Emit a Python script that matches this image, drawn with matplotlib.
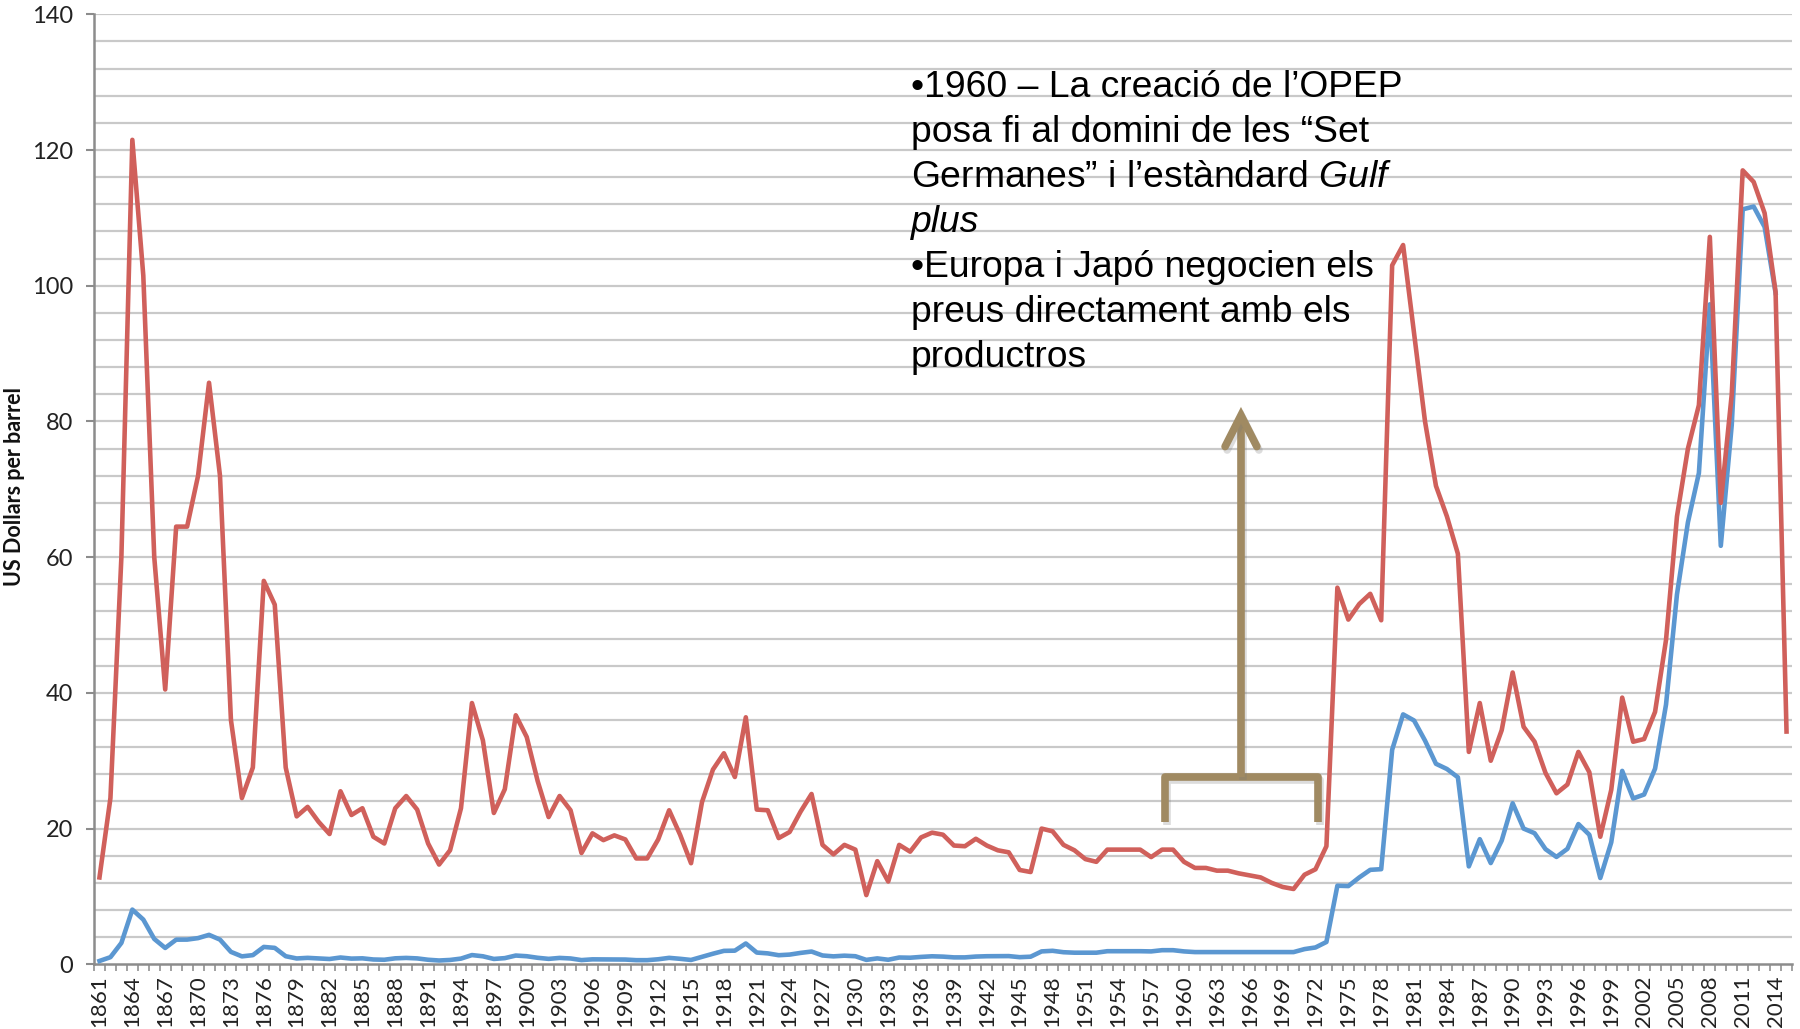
import numpy as np
import matplotlib
matplotlib.use("Agg")
import matplotlib.pyplot as plt
import matplotlib.patheffects as pe

plt.rcParams['mathtext.fontset'] = 'custom'
plt.rcParams['mathtext.rm'] = 'Liberation Sans'
plt.rcParams['mathtext.it'] = 'Liberation Sans:italic'

# ---------------- data ----------------
years = list(range(1861, 2016))

# Real price (US$ 2014) - red
real_price = [
    12.8, 24.5, 60.0, 121.5, 101.5, 60.0, 40.5, 64.5, 64.5, 72.0,          # 1861-1870
    85.7, 72.0, 36.0, 24.5, 29.0, 56.5, 53.0, 29.0, 21.8, 23.2,            # 1871-1880
    21.0, 19.2, 25.5, 22.0, 23.0, 18.8, 17.8, 23.0, 24.8, 22.8,            # 1881-1890
    17.8, 14.7, 16.8, 23.0, 38.5, 33.0, 22.3, 25.8, 36.7, 33.5,            # 1891-1900
    27.0, 21.7, 24.8, 22.7, 16.4, 19.3, 18.3, 19.0, 18.4, 15.6,            # 1901-1910
    15.6, 18.4, 22.7, 19.1, 14.9, 23.9, 28.7, 31.1, 27.6, 36.4,            # 1911-1920
    22.8, 22.7, 18.6, 19.5, 22.5, 25.1, 17.6, 16.2, 17.6, 16.9,            # 1921-1930
    10.2, 15.2, 12.2, 17.6, 16.6, 18.7, 19.4, 19.1, 17.5, 17.4,            # 1931-1940
    18.5, 17.5, 16.8, 16.5, 13.9, 13.6, 20.0, 19.6, 17.6, 16.8,            # 1941-1950
    15.5, 15.1, 16.9, 16.9, 16.9, 16.9, 15.8, 16.9, 16.9, 15.1,            # 1951-1960
    14.2, 14.2, 13.8, 13.8, 13.4, 13.1, 12.8, 12.0, 11.4, 11.1,            # 1961-1970
    13.2, 14.0, 17.4, 55.5, 50.8, 53.1, 54.6, 50.7, 103.0, 106.0,          # 1971-1980
    93.0, 80.0, 70.5, 66.0, 60.5, 31.3, 38.5, 30.0, 34.5, 43.0,            # 1981-1990
    35.0, 32.8, 28.2, 25.2, 26.5, 31.3, 28.3, 18.8, 25.7, 39.3,            # 1991-2000
    32.8, 33.2, 37.2, 47.8, 66.0, 76.0, 82.4, 107.2, 68.0, 84.0,           # 2001-2010
    117.0, 115.3, 110.7, 99.1, 34.3,                                       # 2011-2015
]

# Nominal price (money of the day) - blue
nominal_price = [
    0.49, 1.05, 3.15, 8.06, 6.59, 3.74, 2.41, 3.63, 3.64, 3.86,
    4.34, 3.64, 1.83, 1.17, 1.35, 2.56, 2.42, 1.19, 0.86, 0.95,
    0.86, 0.78, 1.00, 0.84, 0.88, 0.71, 0.67, 0.88, 0.94, 0.87,
    0.67, 0.56, 0.64, 0.84, 1.36, 1.18, 0.79, 0.91, 1.29, 1.19,
    0.96, 0.80, 0.94, 0.86, 0.62, 0.73, 0.72, 0.72, 0.70, 0.61,
    0.61, 0.74, 0.95, 0.81, 0.64, 1.10, 1.56, 1.98, 2.01, 3.07,
    1.73, 1.61, 1.34, 1.43, 1.68, 1.88, 1.30, 1.17, 1.27, 1.19,
    0.65, 0.87, 0.67, 1.00, 0.97, 1.09, 1.18, 1.13, 1.02, 1.02,
    1.14, 1.19, 1.20, 1.21, 1.05, 1.12, 1.90, 1.99, 1.78, 1.71,
    1.71, 1.71, 1.93, 1.93, 1.93, 1.93, 1.90, 2.08, 2.08, 1.90,
    1.80, 1.80, 1.80, 1.80, 1.80, 1.80, 1.80, 1.80, 1.80, 1.80,
    2.24, 2.48, 3.29, 11.58, 11.53, 12.80, 13.92, 14.02, 31.61, 36.83,
    35.93, 32.97, 29.55, 28.78, 27.56, 14.43, 18.44, 14.92, 18.23, 23.73,
    20.00, 19.32, 16.97, 15.82, 17.02, 20.67, 19.09, 12.72, 17.97, 28.50,
    24.44, 25.02, 28.83, 38.27, 54.52, 65.14, 72.39, 97.26, 61.67, 79.50,
    111.26, 111.67, 108.66, 98.95, np.nan,
]

y_label = "US Dollars per barrel"
note_lines = [
    "•1960 – La creació de l’OPEP",
    "posa fi al domini de les “Set",
    "Germanes” i l’estàndard $\\mathit{Gulf}$",
    "plus",
    "•Europa i Japó negocien els",
    "preus directament amb els",
    "productros",
]

# ---------------- figure ----------------
W, H = 1800, 1029
fig = plt.figure(figsize=(W / 100, H / 100), dpi=100)
ax = fig.add_axes([94 / W, (H - 964.3) / H, (1792 - 94) / W, (964.3 - 14.3) / H])

x = np.arange(len(years))
red_c = "#D0605B"
blue_c = "#5B97D1"
ax.plot(x, nominal_price, color=blue_c, lw=3.3, solid_joinstyle="round", zorder=3)
ax.plot(x, real_price, color=red_c, lw=3.3, solid_joinstyle="round", zorder=4)

ax.set_xlim(-0.5, len(years) - 0.5)
ax.set_ylim(0, 140)

# gridlines every 4
for g in np.arange(4, 141, 4):
    ax.axhline(g, color="#C9C9C9", lw=1.6, zorder=1)

# y ticks
ax.set_yticks(np.arange(0, 141, 20))
ax.tick_params(axis="y", length=6, width=1.5, color="#8C8C8C", pad=9,
               labelsize=17, labelcolor="#222222")
# x ticks
ax.set_xticks(x[::3])
ax.set_xticklabels([str(years[i]) for i in x[::3]], rotation=90)
ax.set_xticks(np.arange(-0.5, len(years), 1), minor=True)
ax.tick_params(axis="x", which="major", length=0, pad=8, labelsize=16, labelcolor="#222222")
ax.tick_params(axis="x", which="minor", length=5, width=1.3, color="#9A9A9A")
for lab in ax.get_xticklabels() + ax.get_yticklabels():
    lab.set_family("Lato")

for s in ["top", "right"]:
    ax.spines[s].set_visible(False)
for s in ["left", "bottom"]:
    ax.spines[s].set_color("#8C8C8C")
    ax.spines[s].set_linewidth(1.8)

fig.text(15 / W, 1 - 487 / H, y_label, rotation=90, ha="center", va="center",
         fontsize=15.5, fontweight="bold", family="Lato", color="#111111")

# annotation text
for i, line in enumerate(note_lines):
    baseline = 96.7 + 45 * i
    style = "italic" if line == "plus" else "normal"
    fig.text(911 / W, 1 - baseline / H, line, ha="left", va="baseline",
             fontsize=26.8, family="Liberation Sans", style=style, color="black")

# bracket + arrow
tan = "#A08A62"
shadow = [pe.SimpleLineShadow(offset=(1.5, -2.5), shadow_color="#777777", alpha=0.25),
          pe.Normal()]
bx0, bx1, bxc = 97.3, 111.2, 104.2
ax.plot([bx0, bx0, bx1, bx1], [21.0, 27.6, 27.6, 21.0], color=tan, lw=5.5,
        solid_joinstyle="round", solid_capstyle="butt", zorder=6, path_effects=shadow)
ax.plot([bxc, bxc], [27.6, 80.4], color=tan, lw=5.5, solid_capstyle="butt",
        zorder=6, path_effects=shadow)
ax.plot([bxc - 1.45, bxc, bxc + 1.45], [76.3, 80.9, 76.3], color=tan, lw=5.5,
        solid_joinstyle="miter", solid_capstyle="round", zorder=6, path_effects=shadow)

fig.savefig("out.png", dpi=100)
